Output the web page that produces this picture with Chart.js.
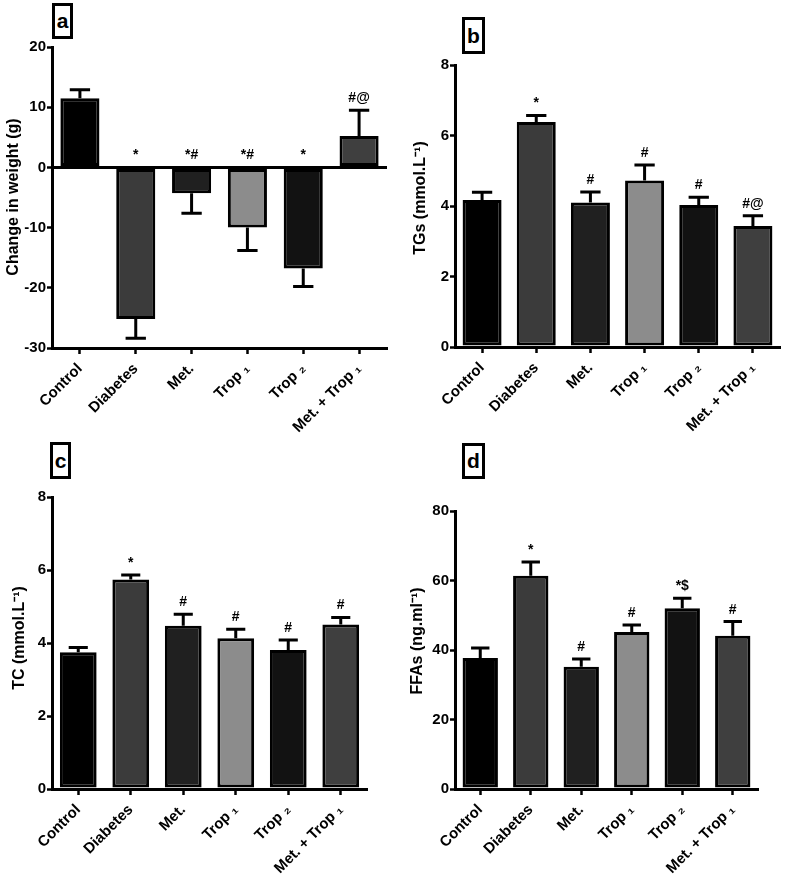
<!DOCTYPE html>
<html>
<head>
<meta charset="utf-8">
<script src="https://cdn.jsdelivr.net/npm/chart.js@4.4.1/dist/chart.umd.min.js"></script>
<style>
    body { margin: 0; background: #fff; }
    #wrap { position: relative; width: 787px; height: 887px; }
    canvas { position: absolute; }
    .tag {
        position: absolute; box-sizing: border-box; border: 3px solid #000; background: #fff;
        font: bold 21px "Liberation Sans", Arial, sans-serif; text-align: center; color: #000;
    }
</style>
</head>
<body>
<div id="wrap">
    <canvas id="chartA" width="393" height="440" style="left:0;top:0"></canvas>
    <canvas id="chartB" width="394" height="440" style="left:393px;top:0"></canvas>
    <canvas id="chartC" width="393" height="447" style="left:0;top:440px"></canvas>
    <canvas id="chartD" width="394" height="447" style="left:393px;top:440px"></canvas>
    <div class="tag" style="left:52px;top:3px;width:21px;height:36px;line-height:30px">a</div>
    <div class="tag" style="left:462px;top:17px;width:23px;height:37px;line-height:31px">b</div>
    <div class="tag" style="left:50px;top:442px;width:21px;height:37px;line-height:31px">c</div>
    <div class="tag" style="left:462px;top:443px;width:23px;height:36px;line-height:30px">d</div>
</div>
<script>
// groups on the x axis (same for all four panels)
const groups = ['Control', 'Diabetes', 'Met.', 'Trop \u2081', 'Trop \u2082', 'Met. + Trop \u2081'];
const barColors = ['#000000', '#3b3b3b', '#202020', '#8c8c8c', '#121212', '#3f3f3f'];

// a - change in body weight (g), mean and SEM
const weightChange = [11.5, -25.2, -4.3, -10.0, -16.8, 5.2];
const weightSem = [1.4, 3.2, 3.3, 3.8, 3.0, 4.3];
const weightMarks = ['', '*', '*#', '*#', '*', '#@'];

// b - triglycerides
const tgs = [4.17, 6.38, 4.10, 4.72, 4.03, 3.43];
const tgsSem = [0.22, 0.19, 0.30, 0.44, 0.22, 0.29];
const tgsMarks = ['', '*', '#', '#', '#', '#@'];

// c - total cholesterol
const tc = [3.75, 5.74, 4.47, 4.13, 3.81, 4.51];
const tcSem = [0.13, 0.12, 0.32, 0.25, 0.27, 0.19];
const tcMarks = ['', '*', '#', '#', '#', '#'];

// d - free fatty acids
const ffas = [37.7, 61.4, 35.2, 45.2, 52.0, 44.1];
const ffasSem = [2.9, 3.9, 2.2, 2.0, 2.9, 4.1];
const ffasMarks = ['', '*', '#', '#', '*$', '#'];

const FONT = '"Liberation Sans", Arial, sans-serif';

// error bars + significance marks, drawn from the dataset through the y scale
const errorBars = {
    id: 'errorBars',
    afterDatasetsDraw(chart) {
        const ctx = chart.ctx;
        const yScale = chart.scales.y;
        const ds = chart.data.datasets[0];
        const meta = chart.getDatasetMeta(0);
        ctx.save();
        ctx.strokeStyle = '#000';
        ctx.fillStyle = '#000';
        ctx.lineWidth = 3;
        ctx.font = 'bold 14px ' + FONT;
        ctx.textAlign = 'center';
        meta.data.forEach((bar, i) => {
            const v = ds.data[i];
            const end = v + (v < 0 ? -1 : 1) * ds.sem[i];
            const y0 = yScale.getPixelForValue(v);
            const y1 = yScale.getPixelForValue(end);
            const half = bar.width * 0.26;
            ctx.beginPath();
            ctx.moveTo(bar.x, y0);
            ctx.lineTo(bar.x, y1);
            ctx.moveTo(bar.x - half, y1);
            ctx.lineTo(bar.x + half, y1);
            ctx.stroke();
            if (ds.marks[i]) {
                const top = yScale.getPixelForValue(Math.max(end, 0));
                ctx.fillText(ds.marks[i], bar.x, top - 8);
            }
        });
        ctx.restore();
    }
};

function makePanel(id, values, sem, marks, opt) {
    const yTitle = {
        id: 'yTitle',
        afterDraw(chart) {
            const ctx = chart.ctx;
            ctx.save();
            ctx.translate(opt.titleX, opt.titleY);
            ctx.rotate(-Math.PI / 2);
            ctx.font = 'bold 16px ' + FONT;
            ctx.fillStyle = '#000';
            ctx.textAlign = 'center';
            ctx.textBaseline = 'middle';
            ctx.fillText(opt.title, 0, 0);
            ctx.restore();
        }
    };

    return new Chart(document.getElementById(id), {
        type: 'bar',
        data: {
            labels: groups,
            datasets: [{
                data: values,
                sem: sem,
                marks: marks,
                backgroundColor: barColors,
                borderColor: '#000',
                borderWidth: 3,
                borderSkipped: false,
                barPercentage: opt.barPct,
                categoryPercentage: 1
            }]
        },
        options: {
            responsive: false,
            devicePixelRatio: 1,
            animation: false,
            layout: { padding: { top: opt.top, right: opt.right, left: 0, bottom: 0 } },
            plugins: { legend: { display: false }, tooltip: { enabled: false } },
            scales: {
                x: {
                    grid: { offset: false, drawOnChartArea: false, tickLength: 6, tickColor: '#000', tickWidth: 2.5 },
                    border: { color: '#000', width: 3 },
                    ticks: {
                        color: '#000', autoSkip: false, minRotation: 45, maxRotation: 45, padding: 6,
                        font: { family: FONT, size: 15, weight: 'bold' }
                    },
                    afterFit: s => { s.height = opt.xHeight; }
                },
                y: {
                    min: opt.min,
                    max: opt.max,
                    ticks: {
                        stepSize: opt.step, color: '#000', padding: 1,
                        font: { family: FONT, size: 15, weight: 'bold' }
                    },
                    grid: {
                        drawOnChartArea: opt.zeroLine,
                        color: c => (c.tick && c.tick.value === 0) ? '#000' : 'rgba(0,0,0,0)',
                        lineWidth: 3,
                        tickLength: 5, tickColor: '#000', tickWidth: 2.5
                    },
                    border: { color: '#000', width: 3 },
                    afterFit: s => { s.width = opt.yWidth; }
                }
            }
        },
        plugins: [errorBars, yTitle]
    });
}

makePanel('chartA', weightChange, weightSem, weightMarks, {
    title: 'Change in weight (g)', titleX: 14, titleY: 197,
    min: -30, max: 20, step: 10, zeroLine: true, barPct: 0.7,
    top: 47, right: 6, yWidth: 52, xHeight: 92
});
makePanel('chartB', tgs, tgsSem, tgsMarks, {
    title: 'TGs (mmol.L\u207B\u00B9)', titleX: 28, titleY: 198,
    min: 0, max: 8, step: 2, zeroLine: false, barPct: 0.72,
    top: 65, right: 7, yWidth: 62, xHeight: 93
});
makePanel('chartC', tc, tcSem, tcMarks, {
    title: 'TC (mmol.L\u207B\u00B9)', titleX: 20, titleY: 198,
    min: 0, max: 8, step: 2, zeroLine: false, barPct: 0.7,
    top: 57, right: 26, yWidth: 52, xHeight: 98
});
makePanel('chartD', ffas, ffasSem, ffasMarks, {
    title: 'FFAs (ng.ml\u207B\u00B9)', titleX: 25, titleY: 201,
    min: 0, max: 80, step: 20, zeroLine: false, barPct: 0.7,
    top: 71, right: 29, yWidth: 62, xHeight: 98
});
</script>
</body>
</html>
